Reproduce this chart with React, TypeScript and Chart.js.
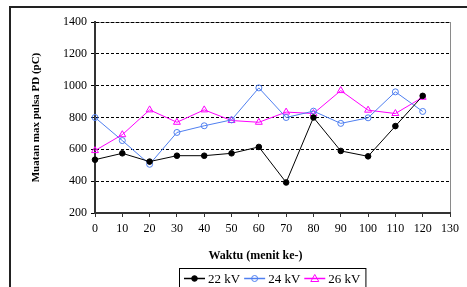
import React, { useEffect, useRef } from "react";
import { Chart, registerables } from "chart.js";

Chart.register(...registerables);

const minutes = [0, 10, 20, 30, 40, 50, 60, 70, 80, 90, 100, 110, 120];
const kv22 = [535, 575, 523, 560, 560, 575, 615, 392, 800, 590, 556, 746, 936];
const kv24 = [800, 655, 506, 706, 748, 785, 986, 800, 840, 763, 798, 961, 838];
const kv26 = [592, 692, 848, 770, 848, 781, 770, 834, 825, 969, 846, 825, 927];
const seriesLabels = ["22 kV", "24 kV", "26 kV"];
const xTitle = "Waktu (menit ke-)";
const yTitle = "Muatan max pulsa PD (pC)";

const SERIF = "'Liberation Serif', 'Times New Roman', serif";

function drawMarker(ctx: CanvasRenderingContext2D, style: string, x: number, y: number, r: number, stroke: string, fill: string) {
  ctx.save();
  ctx.strokeStyle = stroke;
  ctx.fillStyle = fill;
  ctx.lineWidth = 1;
  ctx.beginPath();
  if (style === "triangle") {
    const h = r * 1.5;
    ctx.moveTo(x, y - h * 0.67);
    ctx.lineTo(x + r, y + h * 0.5);
    ctx.lineTo(x - r, y + h * 0.5);
    ctx.closePath();
  } else {
    ctx.arc(x, y, r, 0, Math.PI * 2);
  }
  ctx.fill();
  ctx.stroke();
  ctx.restore();
}

const decorPlugin = {
  id: "decor",
  beforeDraw(chart: any) {
    const { ctx, chartArea } = chart;
    ctx.save();
    // outer frame
    ctx.strokeStyle = "#222";
    ctx.lineWidth = 2;
    ctx.beginPath();
    ctx.moveTo(10, chart.height + 5);
    ctx.lineTo(10, 7);
    ctx.lineTo(chart.width + 5, 7);
    ctx.stroke();
    // plot border (grey)
    ctx.strokeStyle = "#8a8a8a";
    ctx.lineWidth = 1;
    ctx.strokeRect(chartArea.left + 0.5, chartArea.top + 0.5, chartArea.right - chartArea.left, chartArea.bottom - chartArea.top);
    ctx.restore();
  },
  afterDraw(chart: any) {
    const { ctx, chartArea } = chart;
    const cx = (chartArea.left + chartArea.right) / 2;
    ctx.save();
    // x axis title
    ctx.font = `bold 12px ${SERIF}`;
    ctx.fillStyle = "#000";
    ctx.textAlign = "center";
    ctx.textBaseline = "middle";
    ctx.fillText(xTitle, cx - 17, chartArea.bottom + 43);

    // legend
    ctx.font = `13px ${SERIF}`;
    const ds = chart.data.datasets;
    const lineLen = 21;
    const widths = ds.map((d: any) => ctx.measureText(d.label).width);
    const inner = widths.reduce((a: number, w: number) => a + w + lineLen + 3, 0) + 4 * (ds.length - 1);
    const boxW = inner + 10;
    const boxL = Math.round(cx - boxW / 2) + 0.5;
    const boxT = chartArea.bottom + 55.5;
    ctx.strokeStyle = "#000";
    ctx.lineWidth = 1;
    ctx.strokeRect(boxL, boxT, boxW, 26);
    let x = boxL + 4.5;
    const y = boxT + 10;
    ctx.textAlign = "left";
    ds.forEach((d: any, i: number) => {
      ctx.strokeStyle = d.borderColor;
      ctx.lineWidth = 1.5;
      ctx.beginPath();
      ctx.moveTo(x, y);
      ctx.lineTo(x + lineLen, y);
      ctx.stroke();
      drawMarker(ctx, d.pointStyle, x + lineLen / 2, y, d.pointRadius, d.pointBorderColor, d.pointBackgroundColor);
      ctx.fillStyle = "#000";
      ctx.fillText(d.label, x + lineLen + 3, y + 1);
      x += lineLen + 3 + widths[i] + 4;
    });
    ctx.restore();
  },
};

export default function App() {
  const ref = useRef<HTMLCanvasElement>(null);

  useEffect(() => {
    const toPts = (vals: number[]) => vals.map((v, i) => ({ x: minutes[i], y: v }));
    const chart = new Chart(ref.current!, {
      type: "line",
      data: {
        datasets: [
          {
            label: seriesLabels[0],
            data: toPts(kv22),
            borderColor: "#000000",
            borderWidth: 1,
            pointStyle: "circle",
            pointRadius: 2.8,
            pointBorderColor: "#000000",
            pointBackgroundColor: "#000000",
            pointBorderWidth: 1,
            clip: false,
          },
          {
            label: seriesLabels[1],
            data: toPts(kv24),
            borderColor: "#4f7ff0",
            borderWidth: 1,
            pointStyle: "circle",
            pointRadius: 3,
            pointBorderColor: "#4f7ff0",
            pointBackgroundColor: "rgba(255,255,255,0)",
            pointBorderWidth: 1,
            clip: false,
          },
          {
            label: seriesLabels[2],
            data: toPts(kv26),
            borderColor: "#ff00ff",
            borderWidth: 1,
            pointStyle: "triangle",
            pointRadius: 4,
            pointBorderColor: "#ff00ff",
            pointBackgroundColor: "rgba(255,255,255,0)",
            pointBorderWidth: 1,
            clip: false,
          },
        ] as any,
      },
      options: {
        responsive: false,
        animation: false,
        layout: { padding: { left: 0, top: 22, right: 17, bottom: 0 } },
        plugins: {
          legend: { display: false },
          tooltip: { enabled: false },
        },
        scales: {
          x: {
            type: "linear",
            min: 0,
            max: 130,
            ticks: { stepSize: 10, color: "#000", font: { family: SERIF, size: 12 }, padding: 5, callback: (v: any) => String(v) },
            grid: { drawOnChartArea: false, drawTicks: true, tickLength: 4, color: "#333" },
            border: { color: "#333", width: 2 },
            afterFit: (s: any) => {
              s.height = 74;
            },
          },
          y: {
            min: 200,
            max: 1400,
            ticks: { stepSize: 200, color: "#000", font: { family: SERIF, size: 12 }, padding: 4, callback: (v: any) => String(v) },
            grid: { color: "#000", lineWidth: 1, drawTicks: true, tickLength: 4 },
            border: { color: "#333", width: 2, dash: [3, 2] },
            title: {
              display: true,
              text: yTitle,
              color: "#000",
              font: { family: SERIF, size: 11, weight: "bold" },
              padding: { top: 30, bottom: 0 },
            },
            afterFit: (s: any) => {
              s.width = 95;
            },
          },
        },
      } as any,
      plugins: [decorPlugin],
    });
    return () => chart.destroy();
  }, []);

  return (
    <div style={{ position: "absolute", left: 0, top: 0, width: 467, height: 287, background: "#fff" }}>
      <canvas ref={ref} width={467} height={287} style={{ display: "block" }} />
    </div>
  );
}
